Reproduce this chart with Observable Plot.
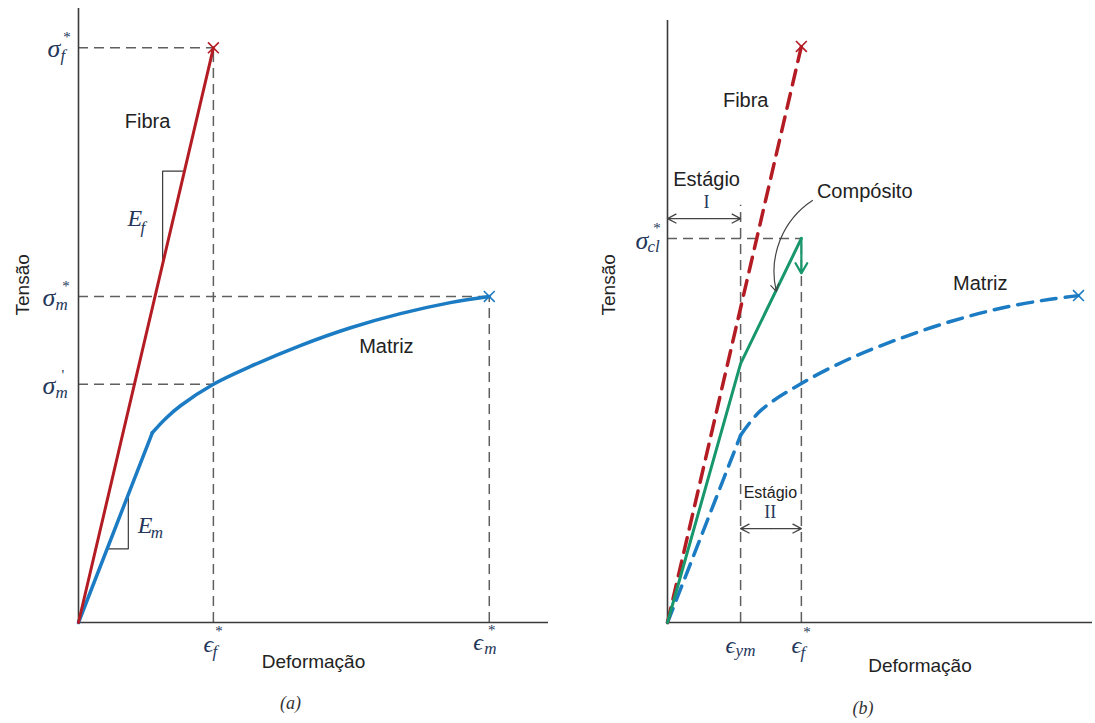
<!DOCTYPE html>
<html><head><meta charset="utf-8">
<script src="https://cdn.jsdelivr.net/npm/d3@7"></script>
<script src="https://cdn.jsdelivr.net/npm/@observablehq/plot@0.6"></script>
<style>
html,body{margin:0;padding:0;background:#fff;}
#wrap{position:relative;width:1095px;height:723px;overflow:hidden;background:#fff;}
#wrap svg{position:absolute;top:0;overflow:visible;}
</style></head><body><div id="wrap"></div>
<script>
// ---------- Panel (a) data (normalised strain / stress units) ----------
const fibraStrainA = [0, 2.87];
const fibraStressA = [0, 9.36];
const matrizStrainA = [0, 1.57, 1.85, 2.17, 2.87, 3.66, 4.72, 5.79, 6.85, 7.91, 8.74];
const matrizStressA = [0, 3.09, 3.32, 3.53, 3.88, 4.17, 4.51, 4.80, 5.03, 5.21, 5.31];
const hRefYA = [9.36, 5.31, 3.88];        // σf*, σm*, σm'
const hRefX2A = [2.87, 8.74, 2.87];
const vRefXA = [2.87, 8.74];              // εf*, εm*
const vRefY2A = [9.36, 5.31];
const slopeEfX = [1.79, 1.79, 2.254];
const slopeEfY = [5.84, 7.35, 7.35];
const slopeEmX = [0.61, 1.06, 1.06];
const slopeEmY = [1.20, 1.20, 2.09];

// ---------- Panel (b) data ----------
const fibraStrainB = [0, 3.15];
const fibraStressB = [0, 9.57];
const compStrainB = [0, 1.72, 3.15];
const compStressB = [0, 4.30, 6.38];
const compDropB = [6.38, 5.80];
const matrizStrainB = [0, 1.72, 2.19, 3.15, 4.31, 5.48, 6.66, 7.84, 9.01, 9.67];
const matrizStressB = [0, 3.11, 3.52, 3.97, 4.39, 4.72, 5.00, 5.22, 5.37, 5.43];
const hRefYB = [6.38];                    // σcl*
const hRefX2B = [3.15];
const vRefXB = [1.72, 3.15];              // εym, εf*
const vRefY2B = [6.93, 6.38];
const stageIArrow = [0, 1.72, 6.71];      // x1, x2, y
const stageIIArrow = [1.72, 3.15, 1.56];
const compArrow = [3.41, 7.01, 2.56, 5.50]; // x1,y1,x2,y2

// ---------- text labels ----------
const labelsA = [{x: 1.47, y: 8.16, t: "Fibra"}, {x: 6.55, y: 4.50, t: "Matriz"}];
const labelsB = [{x: 1.84, y: 8.67, t: "Fibra"}, {x: 7.36, y: 5.63, t: "Matriz"}, {x: 4.64, y: 7.16, t: "Compósito"}];
const stageTextB = [{x: 0.92, y: 7.35, t: "Estágio", r: "I", ry: 6.98}];
const stage2TextB = [{x: 2.42, y: 2.15, t: "Estágio", r: "II", ry: 1.83}];

const sans = "'Liberation Sans', Arial, sans-serif";
const serif = "'Liberation Serif', 'DejaVu Serif', serif";
const RED = "#b41c24", BLUE = "#1b7bc3", GREEN = "#17976b", GRID = "#5f5f5f", AXIS = "#3a3a3a", MATH = "#24375a";

const zip = (xs, ys) => xs.map((x, i) => ({x, y: ys[i]}));

// math label: base + subscript + superscript
function mathLabel(x, y, parts) {
  return parts.map(p => Plot.text([{x, y}], {
    x: "x", y: "y", text: () => p.t, dx: p.dx, dy: p.dy, fontSize: p.s,
    textAnchor: "start", fontFamily: serif, fontStyle: p.up ? "normal" : "italic", fill: MATH
  }));
}
// double-headed arrow drawn as two arrows from the middle outward
function doubleArrow(x1, x2, y) {
  const m = (x1 + x2) / 2;
  return Plot.arrow([{a: m, b: x1, y}, {a: m, b: x2, y}],
    {x1: "a", x2: "b", y1: "y", y2: "y", stroke: "#444", strokeWidth: 1.3, headLength: 11, headAngle: 55});
}
const dashStyle = {stroke: GRID, strokeWidth: 1.5, strokeDasharray: "10,6"};

// ================= Panel (a) =================
const fibraA = zip(fibraStrainA, fibraStressA);
const matrizA = zip(matrizStrainA, matrizStressA);
const plotA = Plot.plot({
  width: 560, height: 723,
  marginLeft: 78, marginRight: 12, marginTop: 8, marginBottom: 101,
  x: {domain: [0, 10], axis: null},
  y: {domain: [0, 10], axis: null},
  style: {background: "transparent", overflow: "visible"},
  marks: [
    Plot.ruleY(hRefYA.map((y, i) => ({y, x2: hRefX2A[i]})), {y: "y", x1: () => 0, x2: "x2", ...dashStyle}),
    Plot.ruleX(vRefXA.map((x, i) => ({x, y2: vRefY2A[i]})), {x: "x", y1: () => 0, y2: "y2", ...dashStyle}),
    Plot.ruleX([0], {stroke: AXIS, strokeWidth: 1.6}),
    Plot.ruleY([0], {stroke: AXIS, strokeWidth: 1.6}),
    Plot.line(zip(slopeEfX, slopeEfY), {x: "x", y: "y", stroke: AXIS, strokeWidth: 1.2}),
    Plot.line(zip(slopeEmX, slopeEmY), {x: "x", y: "y", stroke: AXIS, strokeWidth: 1.2}),
    Plot.line(matrizA.slice(0, 2), {x: "x", y: "y", stroke: BLUE, strokeWidth: 3.5}),
    Plot.line(matrizA.slice(1), {x: "x", y: "y", stroke: BLUE, strokeWidth: 3.5, curve: "catmull-rom"}),
    Plot.line(fibraA, {x: "x", y: "y", stroke: RED, strokeWidth: 3}),
    Plot.dot([fibraA[1]], {x: "x", y: "y", symbol: "times", r: 5, stroke: RED, strokeWidth: 1.6}),
    Plot.dot([matrizA[matrizA.length - 1]], {x: "x", y: "y", symbol: "times", r: 5, stroke: BLUE, strokeWidth: 1.6}),
    Plot.text(labelsA, {x: "x", y: "y", text: "t", fontSize: 20, fontFamily: sans, fill: "#222"}),
    // y tick labels
    ...mathLabel(0, hRefYA[0], [{t: "σ", dx: -31, dy: 1, s: 26}, {t: "f", dx: -18, dy: 8, s: 17}, {t: "*", dx: -16, dy: -11, s: 15}]),
    ...mathLabel(0, hRefYA[1], [{t: "σ", dx: -36, dy: 1, s: 26}, {t: "m", dx: -23, dy: 8, s: 17}, {t: "*", dx: -17, dy: -10, s: 15}]),
    ...mathLabel(0, hRefYA[2], [{t: "σ", dx: -36, dy: 1, s: 26}, {t: "m", dx: -23, dy: 8, s: 17}, {t: "'", dx: -17, dy: -9, s: 15, up: true}]),
    // x tick labels
    ...mathLabel(vRefXA[0], 0, [{t: "ϵ", dx: -10, dy: 22, s: 24}, {t: "f", dx: -1, dy: 29, s: 17}, {t: "*", dx: 1, dy: 9, s: 15}]),
    ...mathLabel(vRefXA[1], 0, [{t: "ϵ", dx: -16, dy: 20, s: 24}, {t: "m", dx: -5, dy: 26, s: 17}, {t: "*", dx: -2, dy: 8, s: 15}]),
    // moduli
    ...mathLabel(1.04, 6.58, [{t: "E", dx: 0, dy: 0, s: 24}, {t: "f", dx: 13, dy: 9, s: 17}]),
    ...mathLabel(1.26, 1.58, [{t: "E", dx: 0, dy: 0, s: 24}, {t: "m", dx: 13, dy: 7, s: 17}]),
    // axis titles
    Plot.text(["Tensão"], {frameAnchor: "left", dx: -56, rotate: -90, fontSize: 19, fontFamily: sans, fill: "#222"}),
    Plot.text(["Deformação"], {frameAnchor: "bottom", dy: 45, fontSize: 19, fontFamily: sans, fill: "#222"}),
    Plot.text(["(a)"], {frameAnchor: "bottom", dx: -23, dy: 86, fontSize: 18, fontFamily: serif, fontStyle: "italic", fill: "#333"})
  ]
});

// ================= Panel (b) =================
const fibraB = zip(fibraStrainB, fibraStressB);
const compB = zip(compStrainB, compStressB);
const matrizB = zip(matrizStrainB, matrizStressB);
const plotB = Plot.plot({
  width: 535, height: 723,
  marginLeft: 107, marginRight: 3, marginTop: 20, marginBottom: 101,
  x: {domain: [0, 10], axis: null},
  y: {domain: [0, 10], axis: null},
  style: {background: "transparent", overflow: "visible"},
  marks: [
    Plot.ruleY(hRefYB.map((y, i) => ({y, x2: hRefX2B[i]})), {y: "y", x1: () => 0, x2: "x2", ...dashStyle}),
    Plot.ruleX(vRefXB.map((x, i) => ({x, y2: vRefY2B[i]})), {x: "x", y1: () => 0, y2: "y2", ...dashStyle}),
    Plot.ruleX([0], {stroke: AXIS, strokeWidth: 1.6}),
    Plot.ruleY([0], {stroke: AXIS, strokeWidth: 1.6}),
    Plot.line(matrizB.slice(0, 2), {x: "x", y: "y", stroke: BLUE, strokeWidth: 3.5, strokeDasharray: "15,9"}),
    Plot.line(matrizB.slice(1), {x: "x", y: "y", stroke: BLUE, strokeWidth: 3.5, strokeDasharray: "15,9", curve: "catmull-rom"}),
    Plot.line(fibraB, {x: "x", y: "y", stroke: RED, strokeWidth: 3.5, strokeDasharray: "15,9"}),
    Plot.line(compB, {x: "x", y: "y", stroke: GREEN, strokeWidth: 3}),
    Plot.arrow([{x1: compStrainB[2], y1: compDropB[0], x2: compStrainB[2], y2: compDropB[1]}],
      {x1: "x1", y1: "y1", x2: "x2", y2: "y2", stroke: GREEN, strokeWidth: 2.2, headLength: 10}),
    Plot.dot([fibraB[1]], {x: "x", y: "y", symbol: "times", r: 5, stroke: RED, strokeWidth: 1.6}),
    Plot.dot([matrizB[matrizB.length - 1]], {x: "x", y: "y", symbol: "times", r: 5, stroke: BLUE, strokeWidth: 1.6}),
    doubleArrow(stageIArrow[0], stageIArrow[1], stageIArrow[2]),
    doubleArrow(stageIIArrow[0], stageIIArrow[1], stageIIArrow[2]),
    Plot.arrow([{x1: compArrow[0], y1: compArrow[1], x2: compArrow[2], y2: compArrow[3]}],
      {x1: "x1", y1: "y1", x2: "x2", y2: "y2", bend: -35, stroke: "#444", strokeWidth: 1.2, headLength: 10}),
    Plot.text(labelsB, {x: "x", y: "y", text: "t", fontSize: 20, fontFamily: sans, fill: "#222"}),
    Plot.text(stageTextB, {x: "x", y: "y", text: "t", fontSize: 20, fontFamily: sans, fill: "#222"}),
    Plot.text(stageTextB, {x: "x", y: "ry", text: "r", fontSize: 18, fontFamily: serif, fill: MATH}),
    Plot.text(stage2TextB, {x: "x", y: "y", text: "t", fontSize: 16, fontFamily: sans, fill: "#222"}),
    Plot.text(stage2TextB, {x: "x", y: "ry", text: "r", fontSize: 18, fontFamily: serif, fill: MATH}),
    ...mathLabel(0, hRefYB[0], [{t: "σ", dx: -32, dy: 2, s: 26}, {t: "cl", dx: -20, dy: 8, s: 17}, {t: "*", dx: -15, dy: -10, s: 15}]),
    ...mathLabel(vRefXB[0], 0, [{t: "ϵ", dx: -15, dy: 23, s: 24}, {t: "ym", dx: -5, dy: 28, s: 17}]),
    ...mathLabel(vRefXB[1], 0, [{t: "ϵ", dx: -10, dy: 23, s: 24}, {t: "f", dx: -1, dy: 30, s: 17}, {t: "*", dx: 1, dy: 10, s: 15}]),
    Plot.text(["Tensão"], {frameAnchor: "left", dx: -59, dy: -6, rotate: -90, fontSize: 19, fontFamily: sans, fill: "#222"}),
    Plot.text(["Deformação"], {frameAnchor: "bottom", dx: 40, dy: 49, fontSize: 19, fontFamily: sans, fill: "#222"}),
    Plot.text(["(b)"], {frameAnchor: "bottom", dx: -17, dy: 91, fontSize: 18, fontFamily: serif, fontStyle: "italic", fill: "#333"})
  ]
});

const wrap = document.getElementById("wrap");
plotA.style.left = "0px";
plotB.style.left = "560px";
wrap.appendChild(plotA);
wrap.appendChild(plotB);
</script></body></html>
